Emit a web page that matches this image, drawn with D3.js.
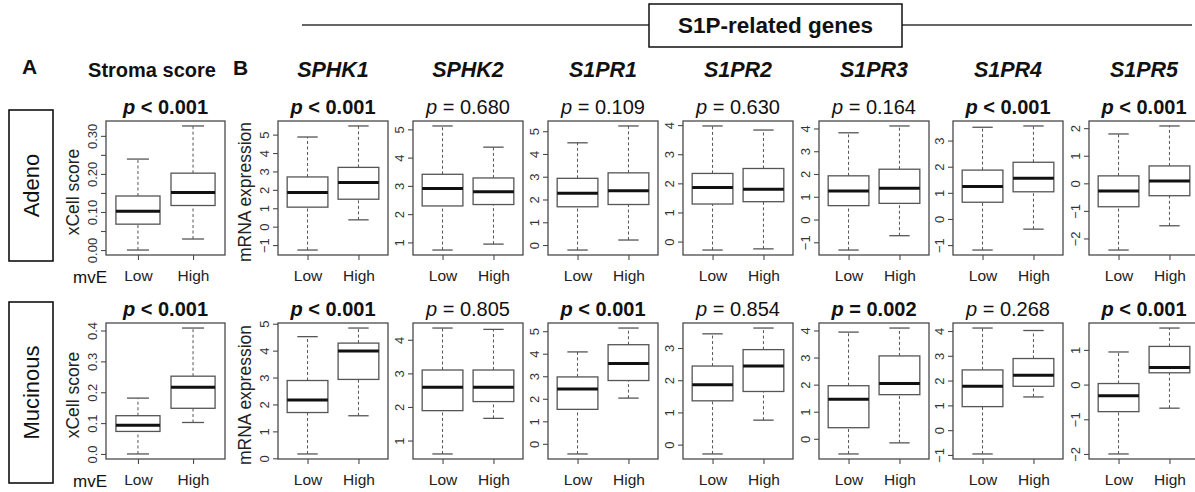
<!DOCTYPE html>
<html>
<head>
<meta charset="utf-8">
<script src="https://cdn.jsdelivr.net/npm/d3@7"></script>
<style>
  body { margin: 0; background: #fff; }
  svg { display: block; font-family: "Liberation Sans", Arial, Helvetica, sans-serif; }
</style>
</head>
<body>
<div id="chart"></div>
<script>
// groups on the x axis
const categories = ["Low", "High"];
const panelTitles = ["Stroma score", "SPHK1", "SPHK2", "S1PR1", "S1PR2", "S1PR3", "S1PR4", "S1PR5"];
const rowNames = ["Adeno", "Mucinous"];

// box stats per panel: [lower whisker, Q1, median, Q3, upper whisker]
const adenoLow = [
  [0.000, 0.068, 0.102, 0.142, 0.239],
  [-1.27, 1.06, 1.86, 2.70, 4.87],
  [0.73, 2.29, 2.91, 3.41, 5.12],
  [-0.22, 1.68, 2.27, 2.93, 4.49],
  [-0.29, 1.29, 1.86, 2.34, 3.97],
  [-1.34, 0.61, 1.25, 1.92, 3.81],
  [-1.19, 0.64, 1.24, 1.87, 3.51],
  [-2.42, -0.85, -0.28, 0.27, 1.79]
];
const adenoHigh = [
  [0.029, 0.117, 0.151, 0.202, 0.326],
  [0.37, 1.49, 2.40, 3.22, 5.47],
  [0.94, 2.34, 2.79, 3.28, 4.37],
  [0.22, 1.78, 2.38, 3.17, 5.23],
  [-0.25, 1.37, 1.80, 2.51, 3.83],
  [-0.71, 0.71, 1.37, 2.21, 4.11],
  [-0.39, 1.04, 1.56, 2.17, 3.56],
  [-1.54, -0.45, 0.08, 0.63, 2.08]
];
const mucinousLow = [
  [0.000, 0.073, 0.093, 0.124, 0.181],
  [0.16, 1.70, 2.17, 2.89, 4.52],
  [0.60, 1.89, 2.59, 3.10, 4.35],
  [-0.45, 1.53, 2.43, 2.97, 4.08],
  [-0.29, 1.36, 1.86, 2.44, 3.44],
  [-0.56, 0.41, 1.46, 1.96, 3.94],
  [-0.96, 0.95, 1.77, 2.43, 4.12],
  [-2.00, -0.78, -0.32, 0.03, 0.94]
];
const mucinousHigh = [
  [0.102, 0.148, 0.216, 0.252, 0.408],
  [1.58, 2.93, 3.99, 4.28, 4.84],
  [1.66, 2.16, 2.59, 3.10, 4.31],
  [2.03, 2.81, 3.57, 4.40, 5.14],
  [0.76, 1.65, 2.44, 2.95, 3.62],
  [-0.15, 1.63, 2.04, 3.06, 4.09],
  [1.34, 1.77, 2.22, 2.89, 4.02],
  [-0.68, 0.34, 0.49, 1.10, 1.63]
];

// p-values and whether they are printed bold
const adenoP = ["< 0.001", "< 0.001", "= 0.680", "= 0.109", "= 0.630", "= 0.164", "< 0.001", "< 0.001"];
const adenoBold = [true, true, false, false, false, false, true, true];
const mucinousP = ["< 0.001", "< 0.001", "= 0.805", "< 0.001", "= 0.854", "= 0.002", "= 0.268", "< 0.001"];
const mucinousBold = [true, true, false, true, false, true, false, true];

// y tick values and labels
const adenoTicks = [
  [0, 0.05, 0.10, 0.15, 0.20, 0.25, 0.30],
  [-1, 0, 1, 2, 3, 4, 5],
  [1, 2, 3, 4, 5],
  [0, 1, 2, 3, 4, 5],
  [0, 1, 2, 3, 4],
  [-1, 0, 1, 2, 3, 4],
  [-1, 0, 1, 2, 3],
  [-2, -1, 0, 1, 2]
];
const adenoTickLabels = [
  ["0.00", "", "0.10", "", "0.20", "", "0.30"],
  null, null, null, null, null, null, null
];
const mucinousTicks = [
  [0, 0.1, 0.2, 0.3, 0.4],
  [0, 1, 2, 3, 4, 5],
  [1, 2, 3, 4],
  [0, 1, 2, 3, 4, 5],
  [0, 1, 2, 3],
  [0, 1, 2, 3, 4],
  [-1, 0, 1, 2, 3, 4],
  [-2, -1, 0, 1]
];
const mucinousTickLabels = [
  ["0.0", "0.1", "0.2", "0.3", "0.4"],
  null, null, null, null, null, null, null
];

const rows = [
  { name: rowNames[0], low: adenoLow, high: adenoHigh, p: adenoP, bold: adenoBold, ticks: adenoTicks, labels: adenoTickLabels },
  { name: rowNames[1], low: mucinousLow, high: mucinousHigh, p: mucinousP, bold: mucinousBold, ticks: mucinousTicks, labels: mucinousTickLabels }
];

// layout
const width = 1195, height = 492;
const rowTop = [121, 323];
const rowBottom = [255, 459];
const rowBox = [[110, 261], [302, 483]];
const panelLeft = [106, 278, 413, 548, 683, 819, 953, 1089];
const panelWidth = [119, 110, 110, 110, 110, 110, 110, 110];
const frameColor = "#4a4a4a";
const boxColor = "#555";

const svg = d3.select("#chart")
  .append("svg")
  .attr("width", width)
  .attr("height", height);

// banner over the gene panels
svg.append("line")
  .attr("x1", 302).attr("x2", 1192)
  .attr("y1", 25).attr("y2", 25)
  .attr("stroke", "#333").attr("stroke-width", 1.3);
svg.append("rect")
  .attr("x", 649).attr("y", 4).attr("width", 253).attr("height", 43)
  .attr("fill", "#fff").attr("stroke", "#111").attr("stroke-width", 1.5);
svg.append("text")
  .attr("x", 775.5).attr("y", 33)
  .attr("text-anchor", "middle")
  .attr("font-size", 22.5).attr("font-weight", "bold")
  .attr("fill", "#111")
  .text("S1P-related genes");

// panel letters
svg.append("text").attr("x", 22).attr("y", 74)
  .attr("font-size", 21).attr("font-weight", "bold").attr("fill", "#111").text("A");
svg.append("text").attr("x", 233).attr("y", 75)
  .attr("font-size", 21).attr("font-weight", "bold").attr("fill", "#111").text("B");

// column titles
panelTitles.forEach((t, j) => {
  svg.append("text")
    .attr("x", j === 0 ? 152 : panelLeft[j] + panelWidth[j] / 2)
    .attr("y", 77)
    .attr("text-anchor", "middle")
    .attr("font-size", j === 0 ? 20 : 21.5)
    .attr("font-weight", "bold")
    .attr("font-style", j === 0 ? "normal" : "italic")
    .attr("fill", "#111")
    .text(t);
});

rows.forEach((row, r) => {
  const top = rowTop[r], bottom = rowBottom[r];

  // row label box
  svg.append("rect")
    .attr("x", 9).attr("y", rowBox[r][0])
    .attr("width", 44).attr("height", rowBox[r][1] - rowBox[r][0])
    .attr("fill", "#fff").attr("stroke", "#111").attr("stroke-width", 1.6);
  svg.append("text")
    .attr("transform", `translate(39,${(rowBox[r][0] + rowBox[r][1]) / 2}) rotate(-90)`)
    .attr("text-anchor", "middle")
    .attr("font-size", 22)
    .attr("fill", "#111")
    .text(row.name);

  // "mvE" group label
  svg.append("text")
    .attr("x", 73).attr("y", bottom + 28)
    .attr("font-size", 17).attr("fill", "#111")
    .text("mvE");

  panelTitles.forEach((t, j) => {
    const left = panelLeft[j], w = panelWidth[j];
    const stats = [row.low[j], row.high[j]];
    const lo = d3.min(stats, (d) => d[0]);
    const hi = d3.max(stats, (d) => d[4]);
    const pad = (hi - lo) * 0.04;

    const y = d3.scaleLinear().domain([lo - pad, hi + pad]).range([bottom, top]);
    const x = d3.scaleLinear().domain([0.42, 2.58]).range([left, left + w]);

    const g = svg.append("g");

    // y axis with rotated labels
    const labels = row.labels[j];
    const yAxis = d3.axisLeft(y)
      .tickValues(row.ticks[j])
      .tickSize(5)
      .tickFormat((d, i) => (labels ? labels[i] : d3.format("d")(d)).replace("-", "\u2212"));
    const ya = g.append("g")
      .attr("transform", `translate(${left},0)`)
      .call(yAxis);
    ya.select(".domain").remove();
    ya.selectAll(".tick line").attr("stroke", frameColor).attr("stroke-width", 1.1);
    ya.selectAll(".tick text")
      .attr("transform", "rotate(-90)")
      .attr("x", 0).attr("y", -9).attr("dy", 0)
      .attr("text-anchor", "middle")
      .attr("font-size", 13)
      .attr("font-family", "'Liberation Sans', Arial, sans-serif")
      .attr("fill", "#333");

    // x axis
    const xAxis = d3.axisBottom(x)
      .tickValues([1, 2])
      .tickSize(5)
      .tickFormat((d) => categories[d - 1]);
    const xa = g.append("g")
      .attr("transform", `translate(0,${bottom})`)
      .call(xAxis);
    xa.select(".domain").remove();
    xa.selectAll(".tick line").attr("stroke", frameColor).attr("stroke-width", 1.1);
    xa.selectAll(".tick text")
      .attr("y", 26).attr("dy", 0)
      .attr("font-size", 15.5)
      .attr("font-family", "'Liberation Sans', Arial, sans-serif")
      .attr("fill", "#222");

    // y axis title on the first two panels
    if (j < 2) {
      svg.append("text")
        .attr("transform", `translate(${left - 27},${(top + bottom) / 2 + 4}) rotate(-90)`)
        .attr("text-anchor", "middle")
        .attr("font-size", 17.5)
        .attr("fill", "#222")
        .text(j === 0 ? "xCell score" : "mRNA expression");
    }

    // boxes
    const half = (x(1.4) - x(0.6)) / 2;
    const cap = half / 2;
    const box = g.selectAll(".box")
      .data(stats)
      .enter()
      .append("g")
      .attr("class", "box");

    // dashed whiskers
    box.append("line")
      .attr("x1", (d, i) => x(i + 1)).attr("x2", (d, i) => x(i + 1))
      .attr("y1", (d) => y(d[3])).attr("y2", (d) => y(d[4]))
      .attr("stroke", boxColor).attr("stroke-width", 1)
      .attr("stroke-dasharray", "3,2.5");
    box.append("line")
      .attr("x1", (d, i) => x(i + 1)).attr("x2", (d, i) => x(i + 1))
      .attr("y1", (d) => y(d[0])).attr("y2", (d) => y(d[1]))
      .attr("stroke", boxColor).attr("stroke-width", 1)
      .attr("stroke-dasharray", "3,2.5");
    // whisker caps
    [0, 4].forEach((k) => {
      box.append("line")
        .attr("x1", (d, i) => x(i + 1) - cap).attr("x2", (d, i) => x(i + 1) + cap)
        .attr("y1", (d) => y(d[k])).attr("y2", (d) => y(d[k]))
        .attr("stroke", boxColor).attr("stroke-width", 1.3);
    });
    // IQR box
    box.append("rect")
      .attr("x", (d, i) => x(i + 1) - half)
      .attr("y", (d) => y(d[3]))
      .attr("width", half * 2)
      .attr("height", (d) => y(d[1]) - y(d[3]))
      .attr("fill", "#fff")
      .attr("stroke", boxColor).attr("stroke-width", 1.3);
    // median
    box.append("line")
      .attr("x1", (d, i) => x(i + 1) - half).attr("x2", (d, i) => x(i + 1) + half)
      .attr("y1", (d) => y(d[2])).attr("y2", (d) => y(d[2]))
      .attr("stroke", "#111").attr("stroke-width", 3);

    // frame
    g.append("rect")
      .attr("x", left).attr("y", top)
      .attr("width", w).attr("height", bottom - top)
      .attr("fill", "none")
      .attr("stroke", frameColor).attr("stroke-width", 1.3);

    // p-value
    const pt = svg.append("text")
      .attr("x", left + w / 2)
      .attr("y", top - 7)
      .attr("text-anchor", "middle")
      .attr("font-size", 20)
      .attr("font-weight", row.bold[j] ? "bold" : "normal")
      .attr("fill", "#111");
    pt.append("tspan").attr("font-style", "italic").text("p");
    pt.append("tspan").text(" " + row.p[j]);
  });
});
</script>
</body>
</html>
